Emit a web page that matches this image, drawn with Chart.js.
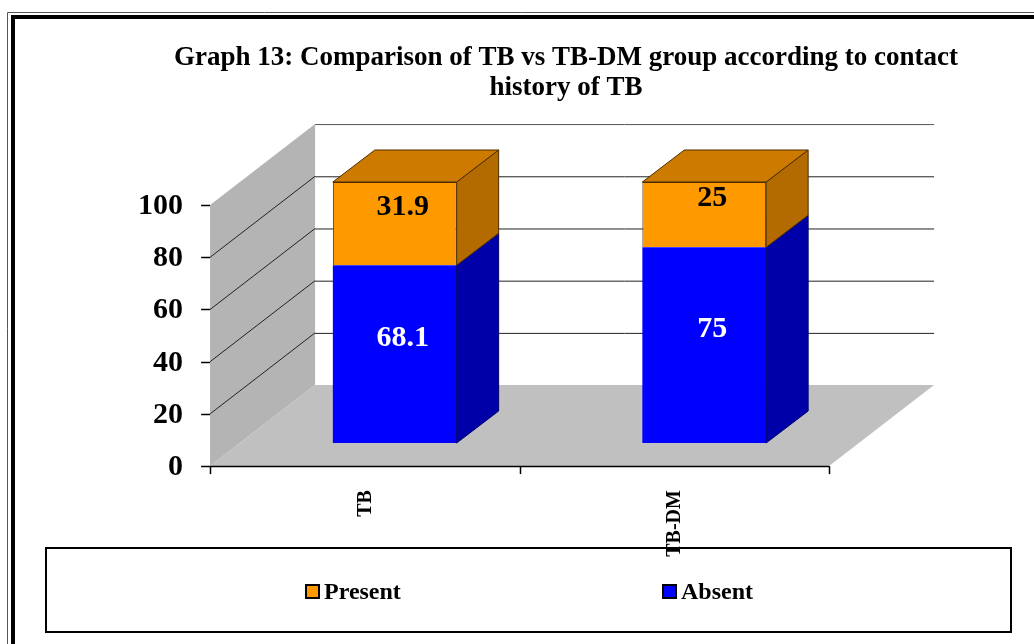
<!DOCTYPE html>
<html>
<head>
<meta charset="utf-8">
<script src="https://cdn.jsdelivr.net/npm/chart.js@4/dist/chart.umd.min.js"></script>
<style>
  body { margin: 0; background: #fff; }
  canvas { display: block; }
</style>
</head>
<body>
<canvas id="myChart" width="1034" height="644"></canvas>
<script>
const categories = ['TB', 'TB-DM'];
const absentValues = [68.1, 75];
const presentValues = [31.9, 25];
const yTicks = [0, 20, 40, 60, 80, 100];
const titleLines = ['Graph 13: Comparison of TB vs TB-DM group according to contact', 'history of TB'];

const serif = '"Liberation Serif", "Times New Roman", serif';

// depth of the box (back wall offset) and where the bars sit inside it
const depth = { x: 105, y: -81 };
const barPlane = 0.285;
const barDepth = { x: 42, y: -32 };

function shade(ctx, pts, fill, stroke) {
    ctx.beginPath();
    ctx.moveTo(pts[0][0], pts[0][1]);
    for (let i = 1; i < pts.length; i++) ctx.lineTo(pts[i][0], pts[i][1]);
    ctx.closePath();
    ctx.fillStyle = fill;
    ctx.fill();
    if (stroke) {
        ctx.strokeStyle = stroke;
        ctx.lineWidth = 1;
        ctx.stroke();
    }
}

function line(ctx, x1, y1, x2, y2, color, width) {
    ctx.beginPath();
    ctx.moveTo(x1, y1);
    ctx.lineTo(x2, y2);
    ctx.strokeStyle = color;
    ctx.lineWidth = width || 1;
    ctx.stroke();
}

const box3d = {
    id: 'box3d',
    beforeDatasetsDraw(chart) {
        const ctx = chart.ctx;
        const area = chart.chartArea;
        const ys = chart.scales.y;
        const xs = chart.scales.x;
        const ox = depth.x * barPlane, oy = depth.y * barPlane;

        // front plane of the box
        const fl = area.left - ox, fr = area.right - ox;
        const fy = v => ys.getPixelForValue(v) - oy;
        const y0 = fy(0), yTop = fy(100);

        ctx.save();
        ctx.fillStyle = '#fff';
        ctx.fillRect(0, 0, chart.width, chart.height);

        // page frame
        line(ctx, 7.5, 12.5, 7.5, chart.height + 5, '#555', 1);
        line(ctx, 7.5, 12.5, chart.width + 5, 12.5, '#555', 1);
        ctx.strokeStyle = '#000';
        ctx.lineWidth = 4;
        ctx.strokeRect(13, 17, chart.width + 20, chart.height + 20);

        // title
        ctx.fillStyle = '#000';
        ctx.font = 'bold 27px ' + serif;
        ctx.textAlign = 'center';
        ctx.textBaseline = 'middle';
        titleLines.forEach((t, i) => ctx.fillText(t, 566, 58 + i * 30));

        // walls and floor
        shade(ctx, [[fl, y0], [fl, yTop], [fl + depth.x, yTop + depth.y], [fl + depth.x, y0 + depth.y]], '#b4b4b4');
        shade(ctx, [[fl, y0], [fr, y0], [fr + depth.x, y0 + depth.y], [fl + depth.x, y0 + depth.y]], '#c0c0c0');

        // gridlines on the back and side walls
        yTicks.forEach(v => {
            if (v === 0) return;
            const y = fy(v);
            const bx = fl + depth.x, by = y + depth.y;
            line(ctx, bx, by + 0.5, fr + depth.x, by + 0.5, v === 100 ? '#555' : '#222', 1);
            if (v < 100) line(ctx, fl, y, bx, by, '#222', 1);
        });

        // category axis
        line(ctx, fl, y0 + 0.5, fr, y0 + 0.5, '#000', 1.5);
        for (let i = 0; i <= categories.length; i++) {
            const x = Math.round(xs.getPixelForValue(i - 0.5) - ox) + 0.5;
            line(ctx, x, y0, x, y0 + 8, '#000', 1.5);
        }
        ctx.fillStyle = '#000';
        ctx.font = 'bold 20px ' + serif;
        ctx.textAlign = 'right';
        ctx.textBaseline = 'middle';
        categories.forEach((c, i) => {
            ctx.save();
            ctx.translate(xs.getPixelForValue(i) - ox + 1, y0 + 24);
            ctx.rotate(-Math.PI / 2);
            ctx.fillText(c, 0, 0);
            ctx.restore();
        });

        // value axis ticks and labels
        ctx.font = 'bold 30px ' + serif;
        ctx.textAlign = 'right';
        yTicks.forEach(v => {
            const y = Math.round(fy(v)) + 0.5;
            line(ctx, fl - 9, y, fl, y, '#000', 1.5);
            ctx.fillStyle = '#000';
            ctx.fillText(String(v), fl - 27, y + 1);
        });

        // legend box
        ctx.strokeStyle = '#000';
        ctx.lineWidth = 2;
        ctx.strokeRect(46, 548, 965, 84);
        const items = chart.data.datasets.slice().reverse();
        const itemX = [306, 663];
        ctx.font = 'bold 24px ' + serif;
        ctx.textAlign = 'left';
        items.forEach((ds, i) => {
            const x = itemX[i];
            ctx.fillStyle = ds.backgroundColor;
            ctx.fillRect(x, 585, 13, 13);
            ctx.strokeStyle = '#000';
            ctx.lineWidth = 2;
            ctx.strokeRect(x, 585, 13, 13);
            ctx.fillStyle = '#000';
            ctx.fillText(ds.label, x + 18, 593);
        });
        ctx.restore();
    },
    afterDatasetsDraw(chart) {
        const ctx = chart.ctx;
        const last = chart.data.datasets.length - 1;
        ctx.save();
        chart.data.datasets.forEach((ds, di) => {
            const meta = chart.getDatasetMeta(di);
            meta.data.forEach((el, i) => {
                const left = el.x - el.width / 2, right = el.x + el.width / 2;
                const top = el.y, bottom = el.base;
                // side face
                shade(ctx, [[right, bottom], [right, top], [right + barDepth.x, top + barDepth.y], [right + barDepth.x, bottom + barDepth.y]],
                    ds.sideColor, ds.edgeColor);
                // top face of the stack
                if (di === last) {
                    shade(ctx, [[left, top], [left + barDepth.x, top + barDepth.y], [right + barDepth.x, top + barDepth.y], [right, top]],
                        ds.topColor, ds.edgeColor);
                }
                // value label
                ctx.fillStyle = ds.labelColor;
                ctx.font = 'bold 30px ' + serif;
                ctx.textAlign = 'center';
                ctx.textBaseline = 'middle';
                ctx.fillText(String(ds.data[i]), el.x + 8, (top + bottom) / 2 - 16);
            });
        });
        ctx.restore();
    }
};

new Chart(document.getElementById('myChart'), {
    type: 'bar',
    data: {
        labels: categories,
        datasets: [{
            label: 'Absent',
            data: absentValues,
            backgroundColor: '#0000ff',
            borderWidth: 0,
            sideColor: '#0000a8',
            topColor: '#0000c8',
            edgeColor: '#00006a',
            labelColor: '#fff'
        }, {
            label: 'Present',
            data: presentValues,
            backgroundColor: '#ff9900',
            borderColor: '#4a2d00',
            borderWidth: 1,
            sideColor: '#b36b00',
            topColor: '#cc7a00',
            edgeColor: '#4a2d00',
            labelColor: '#000'
        }]
    },
    options: {
        responsive: false,
        animation: false,
        layout: { padding: { left: 240, right: 175, top: 182, bottom: 201 } },
        plugins: {
            legend: { display: false },
            title: { display: false },
            tooltip: { enabled: false }
        },
        datasets: { bar: { barPercentage: 0.4, categoryPercentage: 1 } },
        scales: {
            x: { display: false, stacked: true, offset: true },
            y: { display: false, stacked: true, min: 0, max: 100 }
        }
    },
    plugins: [box3d]
});
</script>
</body>
</html>
